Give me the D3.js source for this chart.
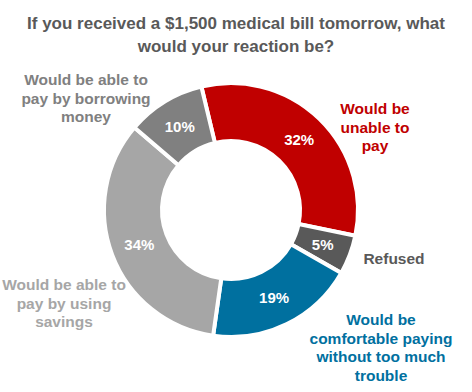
<!DOCTYPE html>
<html lang="en">
<head>
<meta charset="utf-8">
<title>Medical bill reaction</title>
<script src="https://cdnjs.cloudflare.com/ajax/libs/d3/7.8.5/d3.min.js"></script>
<style>
  body { margin: 0; background: #fff; }
  svg text { font-family: "Liberation Sans", Arial, sans-serif; font-weight: bold; }
</style>
</head>
<body>
<div id="chart"></div>
<script>
const categories = [
  "Would be unable to pay",
  "Refused",
  "Would be comfortable paying without too much trouble",
  "Would be able to pay by using savings",
  "Would be able to pay by borrowing money"
];
const values = [32, 5, 19, 34, 10];
const labelLines = [
  ["Would be", "unable to", "pay"],
  ["Refused"],
  ["Would be", "comfortable paying", "without too much", "trouble"],
  ["Would be able to", "pay by using", "savings"],
  ["Would be able to", "pay by borrowing", "money"]
];
const title = ["If you received a $1,500 medical bill tomorrow, what", "would your reaction be?"];

const sliceColors = ["#C00000", "#595959", "#00709F", "#A6A6A6", "#808080"];
const textColors = ["#C00000", "#595959", "#00709F", "#A6A6A6", "#808080"];
// where each outside label sits (centre of its first line)
const labelPos = [[375, 109], [394, 259], [381, 320], [64, 285], [86, 80]];

const w = 472, h = 392;
const cx = 231, cy = 210;
const outerR = 127, innerR = 69;

const svg = d3.select("#chart").append("svg")
  .attr("width", w)
  .attr("height", h);

// title
svg.append("text")
  .attr("x", w / 2)
  .attr("y", 29)
  .attr("text-anchor", "middle")
  .attr("fill", "#595959")
  .style("font-size", "17px")
  .selectAll("tspan")
  .data(title)
  .join("tspan")
  .attr("x", w / 2)
  .attr("dy", (d, i) => i === 0 ? 0 : 23)
  .text(d => d);

const startAngle = -13.5 * Math.PI / 180;
const pie = d3.pie()
  .sort(null)
  .startAngle(startAngle)
  .endAngle(startAngle + 2 * Math.PI)
  .value(d => d);

const arc = d3.arc().innerRadius(innerR).outerRadius(outerR);
const labelArc = d3.arc().innerRadius((innerR + outerR) / 2).outerRadius((innerR + outerR) / 2);

const g = svg.append("g").attr("transform", "translate(" + cx + "," + cy + ")");
const arcs = pie(values);

g.selectAll("path")
  .data(arcs)
  .join("path")
  .attr("d", arc)
  .attr("fill", (d, i) => sliceColors[i])
  .attr("stroke", "#fff")
  .attr("stroke-width", 4)
  .attr("stroke-linejoin", "miter");

g.selectAll("text.pct")
  .data(arcs)
  .join("text")
  .attr("class", "pct")
  .attr("transform", d => "translate(" + labelArc.centroid(d) + ")")
  .attr("text-anchor", "middle")
  .attr("dy", "0.35em")
  .attr("fill", "#fff")
  .style("font-size", "15px")
  .text(d => d.value + "%");

// outside labels
const lbl = svg.selectAll("text.lbl")
  .data(categories)
  .join("text")
  .attr("class", "lbl")
  .attr("text-anchor", "middle")
  .attr("fill", (d, i) => textColors[i])
  .style("font-size", "15.5px")
  .attr("y", (d, i) => labelPos[i][1] + 5);

lbl.selectAll("tspan")
  .data((d, i) => labelLines[i].map(t => ({ t: t, i: i })))
  .join("tspan")
  .attr("x", d => labelPos[d.i][0])
  .attr("dy", (d, j) => j === 0 ? 0 : 18.5)
  .text(d => d.t);
</script>
</body>
</html>
